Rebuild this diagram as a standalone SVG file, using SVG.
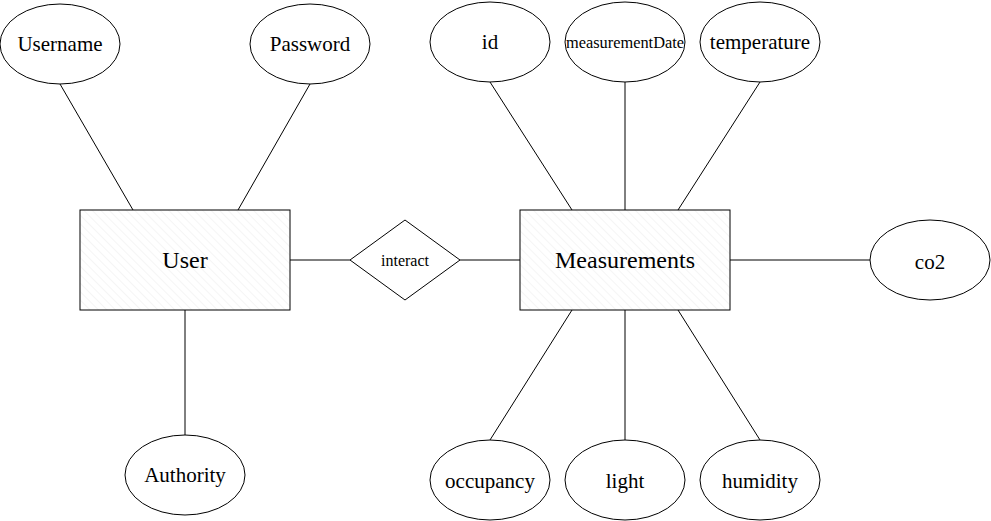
<svg xmlns="http://www.w3.org/2000/svg" width="991" height="521" viewBox="0 0 991 521">
<style>
.shape{fill:#ffffff;stroke:#000000;stroke-width:1}
.ent{fill:url(#hatch);stroke:#000000;stroke-width:1}
.conn line{stroke:#000000;stroke-width:1}
text{font-family:"Liberation Serif","Times New Roman",serif;fill:#000000;text-anchor:middle;dominant-baseline:central}
.attr{font-size:21px}
.big{font-size:24px}
.rel{font-size:16px}
</style>
<defs>
<pattern id="hatch" patternUnits="userSpaceOnUse" width="6" height="6" patternTransform="rotate(-45)">
<rect width="6" height="6" fill="#ffffff"/>
<line x1="0" y1="0" x2="0" y2="6" stroke="#ebebeb" stroke-width="1"/>
</pattern>
</defs>
<rect width="991" height="521" fill="#ffffff"/>
<g id="connectors" class="conn">
<line x1="60" y1="84" x2="133" y2="210"/>
<line x1="310" y1="84" x2="238" y2="210"/>
<line x1="185" y1="310" x2="185" y2="435"/>
<line x1="290" y1="260" x2="350" y2="260"/>
<line x1="460" y1="260" x2="520" y2="260"/>
<line x1="490" y1="82" x2="572" y2="210"/>
<line x1="625" y1="82" x2="625" y2="210"/>
<line x1="760" y1="82" x2="678" y2="210"/>
<line x1="730" y1="260" x2="870" y2="260"/>
<line x1="572" y1="310" x2="490" y2="440"/>
<line x1="625" y1="310" x2="625" y2="440"/>
<line x1="678" y1="310" x2="760" y2="440"/>
</g>
<g id="user"><rect class="ent" x="80" y="210" width="210" height="100"/><text class="big" x="185" y="260">User</text></g>
<g id="measurements"><rect class="ent" x="520" y="210" width="210" height="100"/><text class="big" x="625" y="260">Measurements</text></g>
<g id="interact"><polygon class="shape" points="405,220 460,260 405,300 350,260"/><text class="rel" x="405" y="260">interact</text></g>
<g id="username"><ellipse class="shape" cx="60" cy="44" rx="60" ry="40"/><text class="attr" x="60" y="44">Username</text></g>
<g id="password"><ellipse class="shape" cx="310" cy="44" rx="60" ry="40"/><text class="attr" x="310" y="44">Password</text></g>
<g id="authority"><ellipse class="shape" cx="185" cy="475" rx="60" ry="40"/><text class="attr" x="185" y="475">Authority</text></g>
<g id="id"><ellipse class="shape" cx="490" cy="42" rx="60" ry="40"/><text class="attr" x="490" y="42">id</text></g>
<g id="measurementDate"><ellipse class="shape" cx="625" cy="42" rx="60" ry="40"/><text x="625" y="42" font-size="16" textLength="118" lengthAdjust="spacingAndGlyphs">measurementDate</text></g>
<g id="temperature"><ellipse class="shape" cx="760" cy="42" rx="60" ry="40"/><text class="attr" x="760" y="42">temperature</text></g>
<g id="co2"><ellipse class="shape" cx="930" cy="260" rx="60" ry="40"/><text class="attr" x="930" y="262">co2</text></g>
<g id="occupancy"><ellipse class="shape" cx="490" cy="480" rx="60" ry="40"/><text class="attr" x="490" y="481">occupancy</text></g>
<g id="light"><ellipse class="shape" cx="625" cy="480" rx="60" ry="40"/><text class="attr" x="625" y="481">light</text></g>
<g id="humidity"><ellipse class="shape" cx="760" cy="480" rx="60" ry="40"/><text class="attr" x="760" y="481">humidity</text></g>
</svg>
